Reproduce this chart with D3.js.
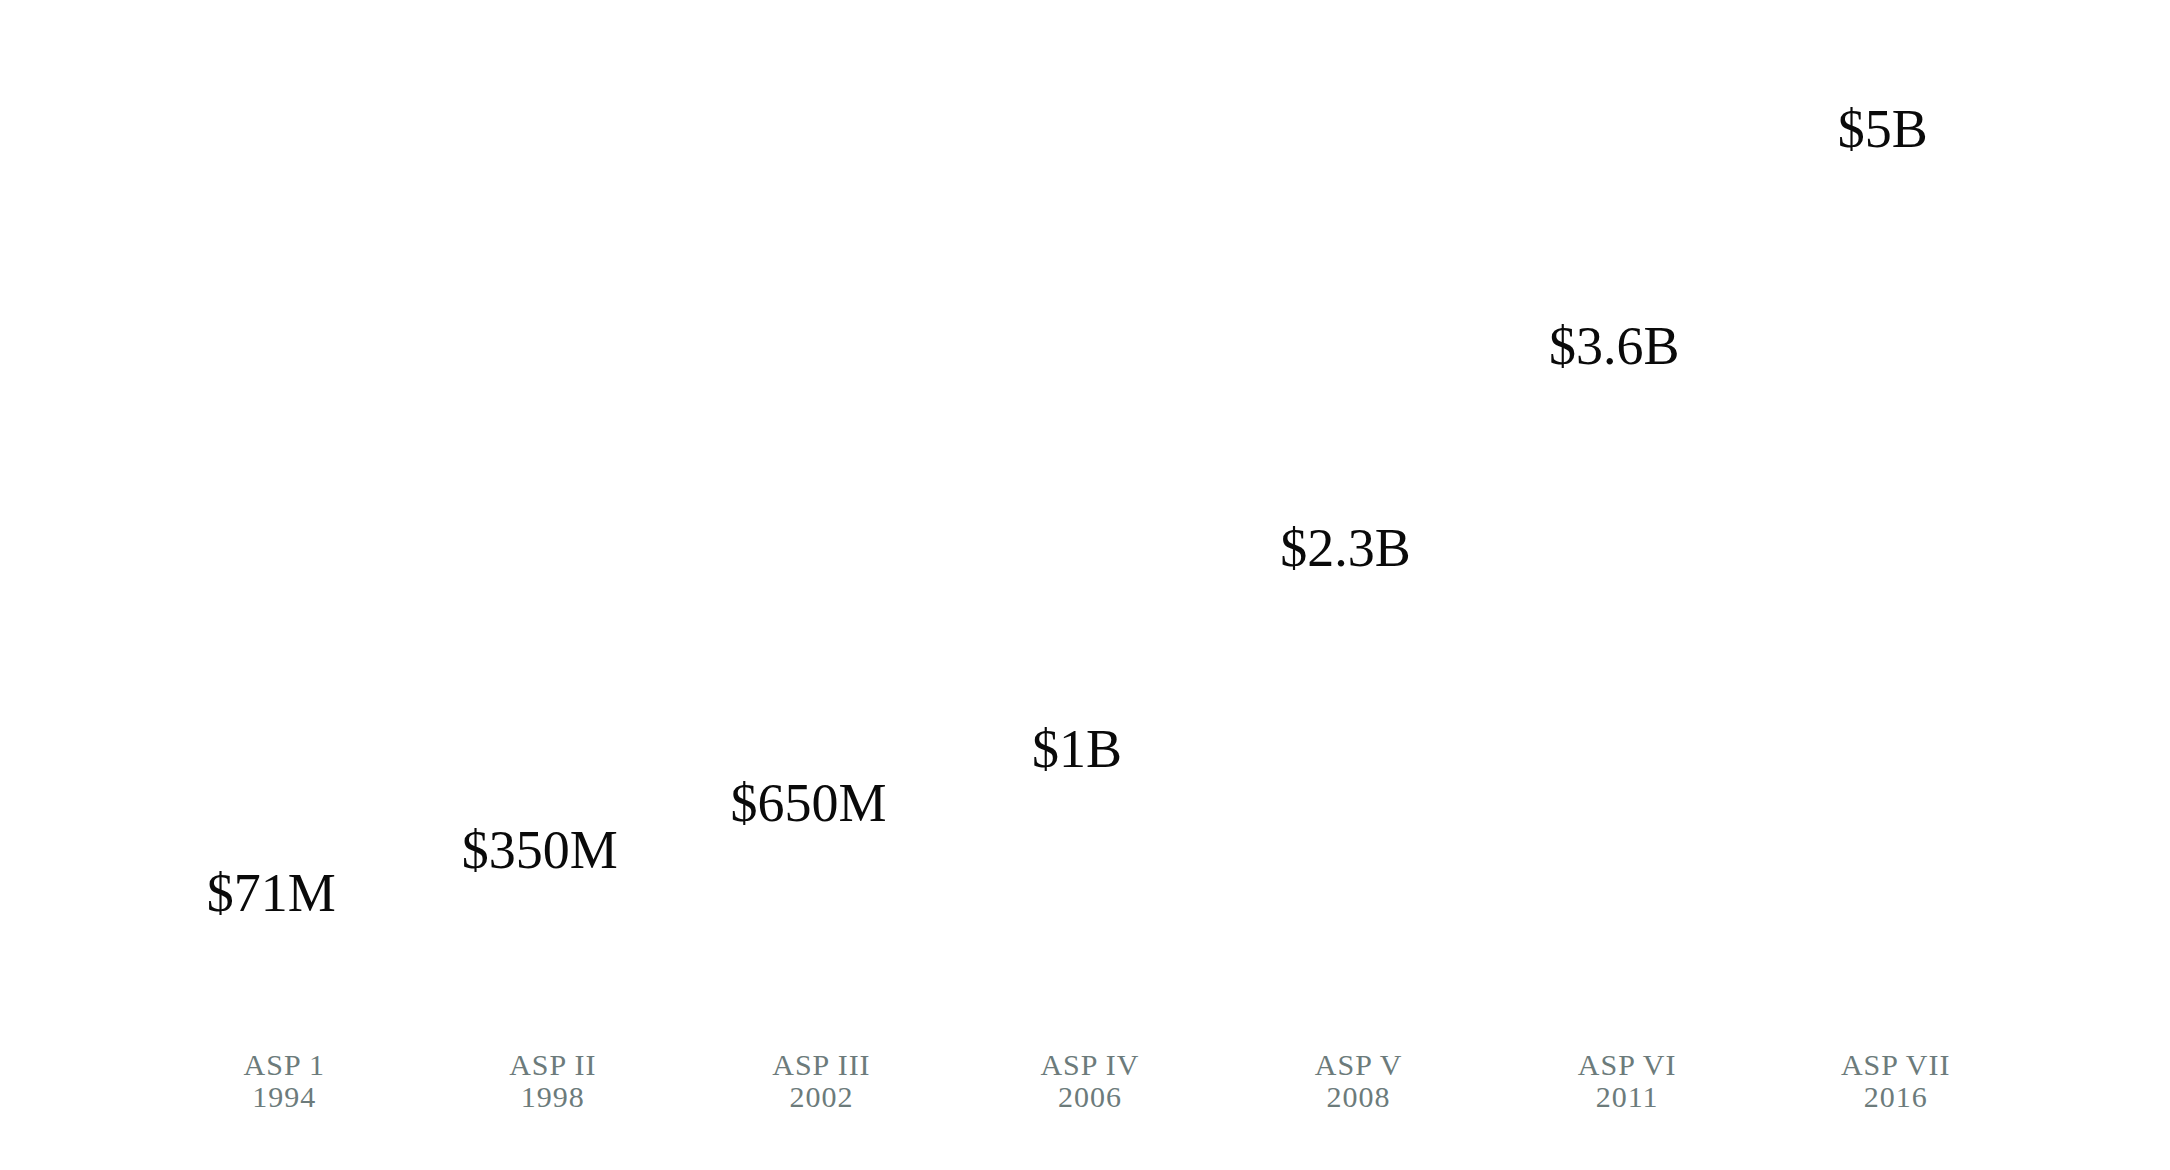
<!DOCTYPE html>
<html>
<head>
<meta charset="utf-8">
<script src="https://cdn.jsdelivr.net/npm/d3@7"></script>
<style>
  html, body { margin: 0; padding: 0; background: #ffffff; }
  svg { display: block; }
</style>
</head>
<body>
<script>
const programs = ["ASP 1", "ASP II", "ASP III", "ASP IV", "ASP V", "ASP VI", "ASP VII"];
const years = ["1994", "1998", "2002", "2006", "2008", "2011", "2016"];
const valuesM = [71, 350, 650, 1000, 2300, 3600, 5000];
const valueLabels = ["$71M", "$350M", "$650M", "$1B", "$2.3B", "$3.6B", "$5B"];

const W = 2170, H = 1170;
const svg = d3.select("body").append("svg").attr("width", W).attr("height", H);

const x = d3.scaleBand().domain(programs).range([150, 2030]).padding(0);
const y = d3.scaleLinear().domain([0, 5000]).range([922, 147]);

const serif = "'Liberation Serif', 'DejaVu Serif', serif";

// value labels
svg.append("g").selectAll("text")
  .data(programs)
  .join("text")
  .attr("x", (d) => x(d) + x.bandwidth() / 2 - 13)
  .attr("y", (d, i) => y(valuesM[i]))
  .attr("text-anchor", "middle")
  .attr("font-family", serif)
  .attr("font-size", 54)
  .attr("fill", "#0a0a0a")
  .text((d, i) => valueLabels[i]);

// category axis labels
const axis = svg.append("g");
const lab = axis.selectAll("text")
  .data(programs)
  .join("text")
  .attr("x", (d) => x(d) + x.bandwidth() / 2)
  .attr("y", 1075)
  .attr("text-anchor", "middle")
  .attr("font-family", serif)
  .attr("font-size", 30)
  .attr("letter-spacing", 1)
  .attr("fill", "#6c7b7b");
lab.append("tspan")
  .attr("x", (d) => x(d) + x.bandwidth() / 2)
  .text((d) => d);
lab.append("tspan")
  .attr("x", (d) => x(d) + x.bandwidth() / 2)
  .attr("dy", 32)
  .text((d, i) => years[i]);
</script>
</body>
</html>
